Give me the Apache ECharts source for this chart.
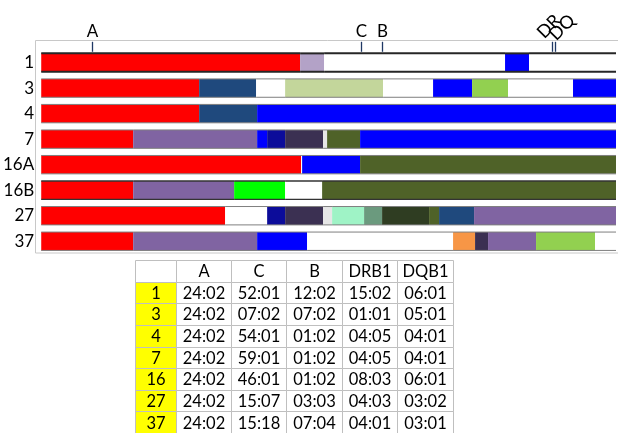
<!DOCTYPE html>
<html>
<head>
<meta charset="utf-8">
<script src="https://cdn.jsdelivr.net/npm/echarts@6/dist/echarts.min.js"></script>
<style>html,body{margin:0;padding:0;background:#fff}#c{width:618px;height:433px}</style>
</head>
<body>
<div id="c"></div>
<script>
// ---------- DATA ----------
const rowLabels = ['1', '3', '4', '7', '16A', '16B', '27', '37'];

// segments along the region: [start, end, haplotype block]
const row1   = [[0,259,'red'],[259,283,'lavender'],[283,464,'white'],[464,488,'blue'],[488,575,'white']];
const row3   = [[0,158,'red'],[158,215,'steel'],[215,244,'white'],[244,342,'lightgreen'],[342,392,'white'],[392,431,'blue'],[431,467,'green'],[467,532,'white'],[532,575,'blue']];
const row4   = [[0,158,'red'],[158,216,'steel'],[216,575,'blue']];
const row7   = [[0,92,'red'],[92,216,'purple'],[216,226,'blue'],[226,244,'navy'],[244,282,'darkpurple'],[282,286,'lightgrey'],[286,319,'olive'],[319,575,'blue']];
const row16A = [[0,260,'red'],[260,261,'white'],[261,319,'blue'],[319,575,'olive']];
const row16B = [[0,92,'red'],[92,193,'purple'],[193,244,'lime'],[244,281,'white'],[281,575,'olive']];
const row27  = [[0,184,'red'],[184,226,'white'],[226,244,'navy'],[244,282,'darkpurple'],[282,291,'lightgrey'],[291,323,'mint'],[323,341,'greygreen'],[341,388,'darkgreen'],[388,398,'olive'],[398,433,'steel'],[433,575,'purple']];
const row37  = [[0,92,'red'],[92,216,'purple'],[216,266,'blue'],[266,412,'white'],[412,434,'orange'],[434,447,'darkpurple'],[447,495,'purple'],[495,554,'green'],[554,575,'white']];
const rowSegments = [row1, row3, row4, row7, row16A, row16B, row27, row37];

const markerNames = ['A', 'C', 'B', 'DR', 'DQ'];
const markerPos   = [51, 320, 341, 511, 514];

const tableHeaders = ['', 'A', 'C', 'B', 'DRB1', 'DQB1'];
const tableRows  = ['1', '3', '4', '7', '16', '27', '37'];
const alleleA    = ['24:02','24:02','24:02','24:02','24:02','24:02','24:02'];
const alleleC    = ['52:01','07:02','54:01','59:01','46:01','15:07','15:18'];
const alleleB    = ['12:02','07:02','01:02','01:02','01:02','03:03','07:04'];
const alleleDRB1 = ['15:02','01:01','04:05','04:05','08:03','04:03','04:01'];
const alleleDQB1 = ['06:01','05:01','04:01','04:01','06:01','03:02','03:01'];

// ---------- STYLE / LAYOUT ----------
const hapColors = {
  red:'#ff0000', lavender:'#b3a2c7', white:'#ffffff', blue:'#0000ff', steel:'#1f497d',
  lightgreen:'#c3d69b', green:'#92d050', purple:'#8064a2', navy:'#0c0c9a', darkpurple:'#3b3052',
  lightgrey:'#e6e6e6', olive:'#4f6228', lime:'#00ff00', mint:'#9ff3c6', greygreen:'#6b9a7e',
  darkgreen:'#2f3d22', orange:'#f79646'
};
const rowBorder = {'1':['#262626',2], '16B':['#333333',1.3]};
const FONT = 'Lato, "Open Sans", sans-serif';
const colEdges = [0, 41, 96, 151, 207, 262, 318];
const rotatedLabelOffset = {DR:[-6, -8], DQ:[3, -6]};

// ---------- BUILD ----------
const segs = [];
rowSegments.forEach((row, ri) => row.forEach(s => segs.push({value:[s[0], s[1], ri], key:s[2], row:rowLabels[ri]})));

const tableCols = [alleleA, alleleC, alleleB, alleleDRB1, alleleDQB1];
const cells = [];
for (let r = 0; r <= tableRows.length; r++) {
  for (let c = 0; c < tableHeaders.length; c++) {
    let text;
    if (r === 0) text = tableHeaders[c];
    else if (c === 0) text = tableRows[r-1];
    else text = tableCols[c-1][r-1];
    cells.push({value:[c, r], text, yellow: (c === 0 && r > 0)});
  }
}
const tableCats = ['hdr'].concat(tableRows);

const chart = echarts.init(document.getElementById('c'), null, {renderer:'canvas'});
chart.setOption({
  animation:false,
  backgroundColor:'#fff',
  graphic:[{type:'rect', z:-10, shape:{x:35.5, y:40.5, width:600, height:212.5}, style:{fill:'#fff', stroke:'#c8c8c8', lineWidth:1}}],
  grid:[
    {left:41, right:2, top:49.8, height:204.2},
    {left:135, top:260, width:318, height:181}
  ],
  xAxis:[
    {type:'value', gridIndex:0, min:0, max:575, show:false},
    {type:'value', gridIndex:1, min:0, max:318, show:false}
  ],
  yAxis:[
    {type:'category', gridIndex:0, data:rowLabels, inverse:true,
     axisLine:{show:false}, axisTick:{show:false}, splitLine:{show:false},
     axisLabel:{margin:7, fontSize:17, color:'#000', fontFamily:FONT, padding:[0,0,5,0]}},
    {type:'category', gridIndex:1, data:tableCats, inverse:true, show:false}
  ],
  series:[
    {
      type:'custom', xAxisIndex:0, yAxisIndex:0, data:segs, encode:{x:[0,1], y:2},
      renderItem:function(params, api){
        const seg = segs[params.dataIndex];
        const s = api.coord([api.value(0), api.value(2)]);
        const e = api.coord([api.value(1), api.value(2)]);
        const h = api.size([0,1])[1] * 0.72;
        const y0 = s[1] - h/2, y1 = s[1] + h/2;
        const b = rowBorder[seg.row] || ['#7f7f7f', 1];
        return {type:'group', children:[
          {type:'rect', shape:{x:s[0], y:y0, width:e[0]-s[0], height:h}, style:{fill:hapColors[seg.key]}},
          {type:'line', shape:{x1:s[0], y1:y0, x2:e[0], y2:y0}, style:{stroke:b[0], lineWidth:b[1]}},
          {type:'line', shape:{x1:s[0], y1:y1, x2:e[0], y2:y1}, style:{stroke:b[0], lineWidth:b[1]}}
        ]};
      }
    },
    {
      type:'custom', xAxisIndex:0, yAxisIndex:0, data:markerPos.map((p,i)=>[p,0]), encode:{x:0, y:1},
      renderItem:function(params, api){
        const i = params.dataIndex;
        const p = api.coord([api.value(0), 0]);
        const top = params.coordSys.y;
        const x = Math.round(p[0]) + 0.5;
        const name = markerNames[i];
        const children = [{type:'line', shape:{x1:x, y1:top-8, x2:x, y2:top+2}, style:{stroke:'#1f3864', lineWidth:1.3}}];
        const off = rotatedLabelOffset[name];
        if (off) {
          children.push({type:'text', x:x+off[0], y:top+off[1], rotation:Math.PI/4,
            style:{text:name, x:0, y:0, align:'left', verticalAlign:'bottom', font:'18px '+FONT, fill:'#000'}});
        } else {
          children.push({type:'text', style:{text:name, x:x, y:top-18.5, align:'center', verticalAlign:'middle', font:'17px '+FONT, fill:'#000'}});
        }
        return {type:'group', children};
      }
    },
    {
      type:'custom', xAxisIndex:1, yAxisIndex:1, data:cells, encode:{x:0, y:1},
      renderItem:function(params, api){
        const cell = cells[params.dataIndex];
        const c = cell.value[0], r = cell.value[1];
        const a = api.coord([colEdges[c], r]);
        const b = api.coord([colEdges[c+1], r]);
        const h = api.size([0,1])[1];
        const x0 = Math.round(a[0]) + 0.5, x1 = Math.round(b[0]) + 0.5;
        const y0 = Math.round(a[1] - h/2) + 0.5;
        return {type:'group', children:[
          {type:'rect', shape:{x:x0, y:y0, width:x1-x0, height:Math.round(h)}, style:{fill: cell.yellow ? '#ffff00' : '#ffffff', stroke:'#bfbfbf', lineWidth:1}},
          {type:'text', style:{text:cell.text, x:(x0+x1)/2, y:a[1]+1, align:'center', verticalAlign:'middle', font:'16.5px '+FONT, fill:'#000'}}
        ]};
      }
    }
  ]
});
</script>
</body>
</html>
